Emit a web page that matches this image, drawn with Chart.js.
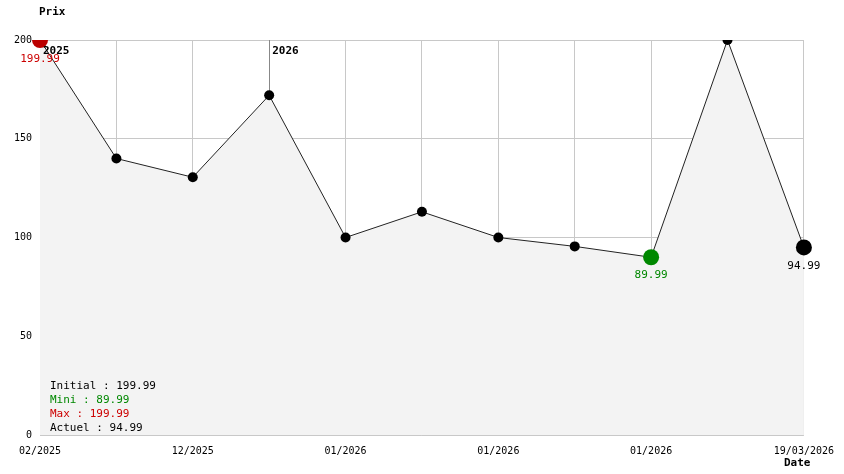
<!DOCTYPE html>
<html><head><meta charset="utf-8">
<script src="https://cdn.jsdelivr.net/npm/chart.js@4"></script>
<style>html,body{margin:0;background:#fff}#w{width:844px;height:474px}</style>
</head><body><div id="w"><canvas id="c"></canvas></div>
<script>
const labels = ['02/2025','','12/2025','','01/2026','','01/2026','','01/2026','','19/03/2026'];
const prices = [199.99,140,130.5,172,100,113,100,95.5,89.99,199.99,94.99];
const yTicks = [0,50,100,150,200];
const yearMarks = [{i:0,t:'2025'},{i:3,t:'2026'}];
const stats = [['Initial : 199.99','#000'],['Mini : 89.99','#008800'],['Max : 199.99','#cc0000'],['Actuel : 94.99','#000']];
const F = '11px "DejaVu Sans Mono", monospace';
const FB = 'bold 11px "DejaVu Sans Mono", monospace';
const radii = prices.map((v,i)=> i===0||i===8||i===10 ? 8 : 5);
const colors = prices.map((v,i)=> i===0 ? '#bb0000' : i===8 ? '#008800' : '#000');
const deco = {id:'deco', afterDatasetsDraw(ch){
  const c=ch.ctx, x=ch.scales.x, y=ch.scales.y;
  c.save(); c.font=FB; c.fillStyle='#000'; c.textBaseline='middle';
  c.fillText('Prix',39,12); c.fillText('Date',784,463);
  yearMarks.forEach(m=>{c.fillText(m.t,x.getPixelForValue(m.i)+3,51);});
  c.font=F; c.textAlign='center';
  c.fillStyle='#cc0000'; c.fillText(prices[0].toFixed(2),x.getPixelForValue(0),59);
  c.fillStyle='#008800'; c.fillText(prices[8].toFixed(2),x.getPixelForValue(8),275);
  c.fillStyle='#000'; c.fillText(prices[10].toFixed(2),x.getPixelForValue(10),266);
  c.textAlign='left';
  stats.forEach((s,k)=>{c.fillStyle=s[1]; c.fillText(s[0],50,386+k*14);});
  c.restore();
}, beforeDatasetsDraw(ch){
  const c=ch.ctx, x=ch.scales.x;
  c.save(); c.strokeStyle='#888'; c.lineWidth=1;
  yearMarks.slice(1).forEach(m=>{const px=Math.round(x.getPixelForValue(m.i))+0.5;c.beginPath();c.moveTo(px,40);c.lineTo(px,ch.chartArea.bottom);c.stroke();});
  c.restore();
}};
new Chart(document.getElementById('c'),{type:'line',
 data:{labels,datasets:[{data:prices,borderColor:'#222',borderWidth:1,tension:0,fill:'origin',backgroundColor:'#f3f3f3',
  pointRadius:radii,pointHoverRadius:radii,pointBackgroundColor:colors,pointBorderColor:colors,pointBorderWidth:0}]},
 options:{responsive:true,maintainAspectRatio:false,animation:false,
  layout:{padding:{top:40,right:40,left:0,bottom:0}},
  plugins:{legend:{display:false},tooltip:{enabled:false}},
  scales:{
   x:{offset:false,grid:{color:'#c8c8c8',drawTicks:false},border:{display:false},
      afterFit(s){s.height=39;},
      ticks:{autoSkip:false,maxRotation:0,font:{family:'DejaVu Sans Mono',size:10},color:'#000',padding:10}},
   y:{min:0,max:200,grid:{color:'#c8c8c8',drawTicks:false},border:{display:false},
      afterFit(s){s.width=40;},
      afterBuildTicks(s){s.ticks=yTicks.map(v=>({value:v}));},
      ticks:{font:{family:'DejaVu Sans Mono',size:10},color:'#000',padding:8}}
  }},
 plugins:[deco]});
</script></body></html>
